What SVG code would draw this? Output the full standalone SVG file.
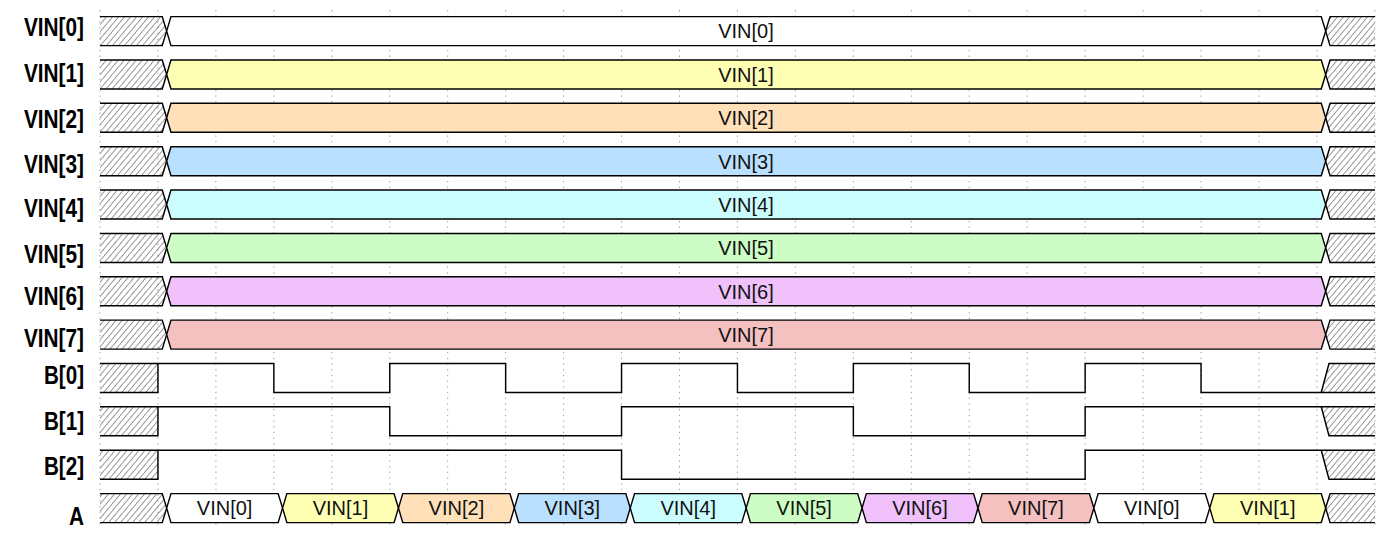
<svg xmlns="http://www.w3.org/2000/svg" width="1386" height="547" viewBox="0 0 1386 547">
<style>
.lbl{font-family:"Liberation Sans",Arial,sans-serif;font-weight:bold;font-size:25px;fill:#000;text-anchor:end}
.dt{font-family:"Liberation Sans",Arial,sans-serif;font-size:20px;fill:#111;text-anchor:middle}
.ln{fill:none;stroke:#000;stroke-width:1.45;stroke-linejoin:miter}
.sh{stroke:#000;stroke-width:1.45}
.hx{fill:url(#hatch);stroke:none}
.grid{stroke:#888;stroke-width:0.8;stroke-dasharray:1.4,4.3;fill:none}
.c0{fill:#ffffff}.c1{fill:#ffffb4}.c2{fill:#ffe0b9}.c3{fill:#b9e0ff}
.c4{fill:#ccfdfe}.c5{fill:#cdfdc5}.c6{fill:#f0c1fb}.c7{fill:#f4c1c0}
</style>
<defs>
<pattern id="hatch" patternUnits="userSpaceOnUse" width="4.6" height="4.6" patternTransform="rotate(40)">
<line x1="0" y1="0" x2="0" y2="4.6" stroke="#333" stroke-width="1"/>
</pattern>
</defs>
<rect width="1386" height="547" fill="#fff"/>
<g id="grid">
<path class="grid" d="M100,10V528M157.95,10V528M215.9,10V528M273.85,10V528M331.8,10V528M389.75,10V528M447.7,10V528M505.65,10V528M563.6,10V528M621.55,10V528M679.5,10V528M737.45,10V528M795.4,10V528M853.35,10V528M911.3,10V528M969.25,10V528M1027.2,10V528M1085.15,10V528M1143.1,10V528M1201.05,10V528M1259,10V528M1316.95,10V528M1374.9,10V528"/>
</g>
<g id="labels">
<text class="lbl" x="84" y="36" textLength="60" lengthAdjust="spacingAndGlyphs">VIN[0]</text>
<text class="lbl" x="84" y="82" textLength="60" lengthAdjust="spacingAndGlyphs">VIN[1]</text>
<text class="lbl" x="84" y="128" textLength="60" lengthAdjust="spacingAndGlyphs">VIN[2]</text>
<text class="lbl" x="84" y="173" textLength="60" lengthAdjust="spacingAndGlyphs">VIN[3]</text>
<text class="lbl" x="84" y="217" textLength="60" lengthAdjust="spacingAndGlyphs">VIN[4]</text>
<text class="lbl" x="84" y="263" textLength="60" lengthAdjust="spacingAndGlyphs">VIN[5]</text>
<text class="lbl" x="84" y="305" textLength="60" lengthAdjust="spacingAndGlyphs">VIN[6]</text>
<text class="lbl" x="84" y="347" textLength="60" lengthAdjust="spacingAndGlyphs">VIN[7]</text>
<text class="lbl" x="84" y="384" textLength="40" lengthAdjust="spacingAndGlyphs">B[0]</text>
<text class="lbl" x="84" y="430" textLength="40" lengthAdjust="spacingAndGlyphs">B[1]</text>
<text class="lbl" x="84" y="475" textLength="40" lengthAdjust="spacingAndGlyphs">B[2]</text>
<text class="lbl" x="84" y="525" textLength="15" lengthAdjust="spacingAndGlyphs">A</text>
</g>
<g id="sig-VIN0">
<path class="hx" d="M100,16.6H162.25L166.65,31.1L162.25,45.6H100Z"/>
<path class="ln" d="M100,16.6H162.25L166.65,31.1L162.25,45.6H100"/>
<path class="sh c0" d="M166.65,31.1L170.95,16.6H1321.25L1325.65,31.1L1321.25,45.6H170.95Z"/>
<path class="hx" d="M1325.65,31.1L1330.05,16.6H1375V45.6H1330.05Z"/>
<path class="ln" d="M1375,16.6H1330.05L1325.65,31.1L1330.05,45.6H1375"/>
<text class="dt" x="746" y="38.4">VIN[0]</text>
</g>
<g id="sig-VIN1">
<path class="hx" d="M100,60H162.25L166.65,74.5L162.25,89H100Z"/>
<path class="ln" d="M100,60H162.25L166.65,74.5L162.25,89H100"/>
<path class="sh c1" d="M166.65,74.5L170.95,60H1321.25L1325.65,74.5L1321.25,89H170.95Z"/>
<path class="hx" d="M1325.65,74.5L1330.05,60H1375V89H1330.05Z"/>
<path class="ln" d="M1375,60H1330.05L1325.65,74.5L1330.05,89H1375"/>
<text class="dt" x="746" y="81.8">VIN[1]</text>
</g>
<g id="sig-VIN2">
<path class="hx" d="M100,103.3H162.25L166.65,117.8L162.25,132.3H100Z"/>
<path class="ln" d="M100,103.3H162.25L166.65,117.8L162.25,132.3H100"/>
<path class="sh c2" d="M166.65,117.8L170.95,103.3H1321.25L1325.65,117.8L1321.25,132.3H170.95Z"/>
<path class="hx" d="M1325.65,117.8L1330.05,103.3H1375V132.3H1330.05Z"/>
<path class="ln" d="M1375,103.3H1330.05L1325.65,117.8L1330.05,132.3H1375"/>
<text class="dt" x="746" y="125.1">VIN[2]</text>
</g>
<g id="sig-VIN3">
<path class="hx" d="M100,146.7H162.25L166.65,161.2L162.25,175.7H100Z"/>
<path class="ln" d="M100,146.7H162.25L166.65,161.2L162.25,175.7H100"/>
<path class="sh c3" d="M166.65,161.2L170.95,146.7H1321.25L1325.65,161.2L1321.25,175.7H170.95Z"/>
<path class="hx" d="M1325.65,161.2L1330.05,146.7H1375V175.7H1330.05Z"/>
<path class="ln" d="M1375,146.7H1330.05L1325.65,161.2L1330.05,175.7H1375"/>
<text class="dt" x="746" y="168.5">VIN[3]</text>
</g>
<g id="sig-VIN4">
<path class="hx" d="M100,190H162.25L166.65,204.5L162.25,219H100Z"/>
<path class="ln" d="M100,190H162.25L166.65,204.5L162.25,219H100"/>
<path class="sh c4" d="M166.65,204.5L170.95,190H1321.25L1325.65,204.5L1321.25,219H170.95Z"/>
<path class="hx" d="M1325.65,204.5L1330.05,190H1375V219H1330.05Z"/>
<path class="ln" d="M1375,190H1330.05L1325.65,204.5L1330.05,219H1375"/>
<text class="dt" x="746" y="211.8">VIN[4]</text>
</g>
<g id="sig-VIN5">
<path class="hx" d="M100,233.4H162.25L166.65,247.9L162.25,262.4H100Z"/>
<path class="ln" d="M100,233.4H162.25L166.65,247.9L162.25,262.4H100"/>
<path class="sh c5" d="M166.65,247.9L170.95,233.4H1321.25L1325.65,247.9L1321.25,262.4H170.95Z"/>
<path class="hx" d="M1325.65,247.9L1330.05,233.4H1375V262.4H1330.05Z"/>
<path class="ln" d="M1375,233.4H1330.05L1325.65,247.9L1330.05,262.4H1375"/>
<text class="dt" x="746" y="255.2">VIN[5]</text>
</g>
<g id="sig-VIN6">
<path class="hx" d="M100,276.8H162.25L166.65,291.3L162.25,305.8H100Z"/>
<path class="ln" d="M100,276.8H162.25L166.65,291.3L162.25,305.8H100"/>
<path class="sh c6" d="M166.65,291.3L170.95,276.8H1321.25L1325.65,291.3L1321.25,305.8H170.95Z"/>
<path class="hx" d="M1325.65,291.3L1330.05,276.8H1375V305.8H1330.05Z"/>
<path class="ln" d="M1375,276.8H1330.05L1325.65,291.3L1330.05,305.8H1375"/>
<text class="dt" x="746" y="298.6">VIN[6]</text>
</g>
<g id="sig-VIN7">
<path class="hx" d="M100,320.1H162.25L166.65,334.6L162.25,349.1H100Z"/>
<path class="ln" d="M100,320.1H162.25L166.65,334.6L162.25,349.1H100"/>
<path class="sh c7" d="M166.65,334.6L170.95,320.1H1321.25L1325.65,334.6L1321.25,349.1H170.95Z"/>
<path class="hx" d="M1325.65,334.6L1330.05,320.1H1375V349.1H1330.05Z"/>
<path class="ln" d="M1375,320.1H1330.05L1325.65,334.6L1330.05,349.1H1375"/>
<text class="dt" x="746" y="341.9">VIN[7]</text>
</g>
<g id="sig-B0">
<rect class="hx" x="100" y="363.5" width="57.95" height="29"/>
<path class="hx" d="M1321.25,392.5L1329,363.5H1375V392.5Z"/>
<path class="ln" d="M100,392.5H157.95V363.5"/>
<path class="ln" d="M100,363.5H273.85V392.5H389.75V363.5H505.65V392.5H621.55V363.5H737.45V392.5H853.35V363.5H969.25V392.5H1085.15V363.5H1201.05V392.5H1375"/>
<path class="ln" d="M1321.25,392.5L1329,363.5H1375"/>
</g>
<g id="sig-B1">
<rect class="hx" x="100" y="406.8" width="57.95" height="29"/>
<path class="hx" d="M1321.25,406.8H1375V435.8H1329Z"/>
<path class="ln" d="M100,435.8H157.95V406.8"/>
<path class="ln" d="M100,406.8H389.75V435.8H621.55V406.8H853.35V435.8H1085.15V406.8H1375"/>
<path class="ln" d="M1321.25,406.8L1329,435.8H1375"/>
</g>
<g id="sig-B2">
<rect class="hx" x="100" y="450.2" width="57.95" height="29"/>
<path class="hx" d="M1321.25,450.2H1375V479.2H1329Z"/>
<path class="ln" d="M100,479.2H157.95V450.2"/>
<path class="ln" d="M100,450.2H621.55V479.2H1085.15V450.2H1375"/>
<path class="ln" d="M1321.25,450.2L1329,479.2H1375"/>
</g>
<g id="sig-A">
<path class="hx" d="M100,493.6H162.25L166.65,508.1L162.25,522.6H100Z"/>
<path class="ln" d="M100,493.6H162.25L166.65,508.1L162.25,522.6H100"/>
<path class="sh c0" d="M166.65,508.1L170.95,493.6H278.15L282.55,508.1L278.15,522.6H170.95Z"/>
<path class="sh c1" d="M282.55,508.1L286.85,493.6H394.05L398.45,508.1L394.05,522.6H286.85Z"/>
<path class="sh c2" d="M398.45,508.1L402.75,493.6H509.95L514.35,508.1L509.95,522.6H402.75Z"/>
<path class="sh c3" d="M514.35,508.1L518.65,493.6H625.85L630.25,508.1L625.85,522.6H518.65Z"/>
<path class="sh c4" d="M630.25,508.1L634.55,493.6H741.75L746.15,508.1L741.75,522.6H634.55Z"/>
<path class="sh c5" d="M746.15,508.1L750.45,493.6H857.65L862.05,508.1L857.65,522.6H750.45Z"/>
<path class="sh c6" d="M862.05,508.1L866.35,493.6H973.55L977.95,508.1L973.55,522.6H866.35Z"/>
<path class="sh c7" d="M977.95,508.1L982.25,493.6H1089.45L1093.85,508.1L1089.45,522.6H982.25Z"/>
<path class="sh c0" d="M1093.85,508.1L1098.15,493.6H1205.35L1209.75,508.1L1205.35,522.6H1098.15Z"/>
<path class="sh c1" d="M1209.75,508.1L1214.05,493.6H1321.25L1325.65,508.1L1321.25,522.6H1214.05Z"/>
<path class="hx" d="M1325.65,508.1L1330.05,493.6H1375V522.6H1330.05Z"/>
<path class="ln" d="M1375,493.6H1330.05L1325.65,508.1L1330.05,522.6H1375"/>
<text class="dt" x="224.6" y="515.4">VIN[0]</text>
<text class="dt" x="340.5" y="515.4">VIN[1]</text>
<text class="dt" x="456.4" y="515.4">VIN[2]</text>
<text class="dt" x="572.3" y="515.4">VIN[3]</text>
<text class="dt" x="688.2" y="515.4">VIN[4]</text>
<text class="dt" x="804.1" y="515.4">VIN[5]</text>
<text class="dt" x="920" y="515.4">VIN[6]</text>
<text class="dt" x="1035.9" y="515.4">VIN[7]</text>
<text class="dt" x="1151.8" y="515.4">VIN[0]</text>
<text class="dt" x="1267.7" y="515.4">VIN[1]</text>
</g>
</svg>
